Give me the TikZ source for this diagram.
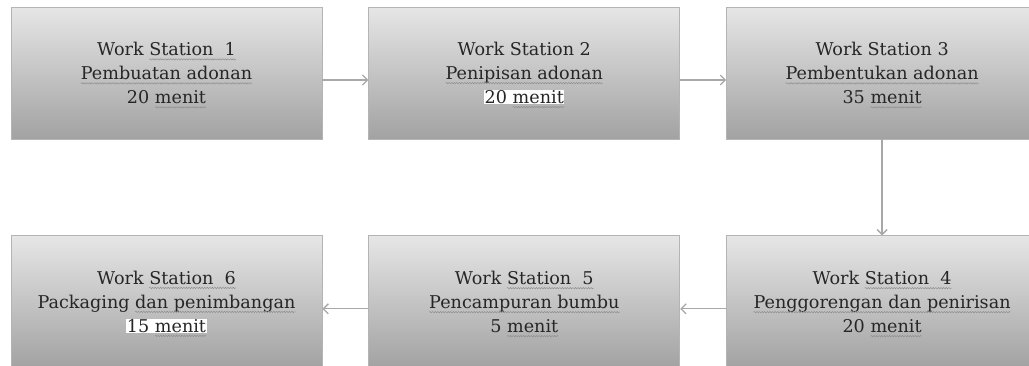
\documentclass[tikz,border=0pt]{standalone}
\usepackage{fontspec}
\setmainfont{DejaVu Serif}
\usetikzlibrary{positioning,arrows.meta,decorations.pathmorphing}
\newsavebox\splbox
\newcommand\spl[1]{\sbox\splbox{#1}\usebox\splbox\tikz[overlay,baseline=0pt]\draw[black!45,line width=0.45pt,decorate,decoration={snake,amplitude=0.7pt,segment length=2.6pt}] (-\wd\splbox,-3.8pt) -- (0pt,-3.8pt);}
\newcommand\hl[1]{{\setlength{\fboxsep}{0.5pt}\colorbox{white}{#1}}}
\definecolor{boxtop}{HTML}{E6E6E6}
\definecolor{boxbot}{HTML}{A2A2A2}
\definecolor{boxline}{HTML}{B4B4B4}
\definecolor{arrowgray}{HTML}{A8A8A8}
\tikzset{
  ws/.style={draw=boxline,line width=0.8pt,top color=boxtop,bottom color=boxbot,
    minimum width=311pt,minimum height=132pt,inner sep=0pt,align=center,
    font=\fontsize{17.6}{24}\selectfont,text=black!85},
  flow/.style={->,draw=arrowgray,line width=1.3pt}
}
\begin{document}
\begin{tikzpicture}[>={Straight Barb[length=5pt,width=10pt]},x=1pt,y=-1pt]
  \useasboundingbox (0,0) rectangle (1029,365);
  % baris atas
  \node[ws] (ws1) at (166.5,73) {Work \spl{Station\ \ 1}\\\spl{Pembuatan adonan}\\20 \spl{menit}};
  \node[ws,right=46pt of ws1] (ws2) {Work Station 2\\\spl{Penipisan adonan}\\\hl{20 \spl{menit}}};
  \node[ws,right=46pt of ws2] (ws3) {Work Station 3\\\spl{Pembentukan adonan}\\35 \spl{menit}};
  % baris bawah
  \node[ws,below=96pt of ws3] (ws4) {Work \spl{Station\ \ 4}\\\spl{Penggorengan dan penirisan}\\20 \spl{menit}};
  \node[ws,left=46pt of ws4] (ws5) {Work \spl{Station\ \ 5}\\\spl{Pencampuran bumbu}\\5 \spl{menit}};
  \node[ws,left=46pt of ws5] (ws6) {Work \spl{Station\ \ 6}\\Packaging \spl{dan penimbangan}\\\hl{15 \spl{menit}}};
  \draw[flow] ([yshift=-7pt]ws1.east) -- ([yshift=-7pt]ws2.west);
  \draw[flow] ([yshift=-7pt]ws2.east) -- ([yshift=-7pt]ws3.west);
  \draw[flow] (ws3.south) -- (ws4.north);
  \draw[flow] ([yshift=-7pt]ws4.west) -- ([yshift=-7pt]ws5.east);
  \draw[flow] ([yshift=-7pt]ws5.west) -- ([yshift=-7pt]ws6.east);
\end{tikzpicture}
\end{document}
